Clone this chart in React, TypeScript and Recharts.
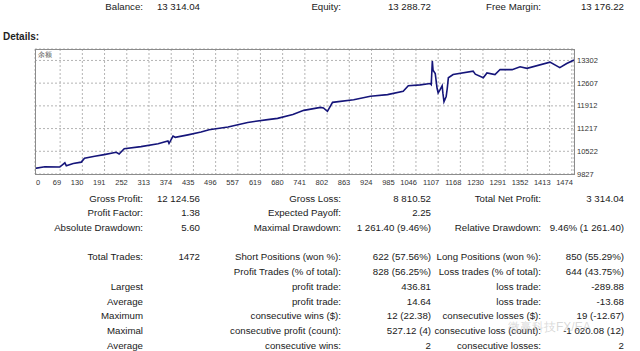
import React from "react";
import { LineChart, Line, XAxis, YAxis, CartesianGrid } from "recharts";

// balance curve (trade number -> balance)
const trades = [
  0, 27, 68, 82, 86, 105, 127, 136, 164, 190, 223, 231, 245, 291, 338, 365, 368, 379, 385, 420,
  456, 478, 530, 584, 639, 666, 708, 738, 784, 792, 803, 817, 875, 921, 968, 1011, 1025, 1058, 1085, 1088,
  1091, 1093, 1099, 1104, 1107, 1112, 1118, 1120, 1123, 1129, 1132, 1135, 1148, 1203, 1209, 1231, 1241, 1263, 1277, 1310,
  1332, 1351, 1414, 1441, 1460, 1480,
];
const balance = [
  10000, 10050, 10040, 10170, 10080, 10150, 10190, 10310, 10370, 10420, 10490, 10440, 10600, 10665, 10750, 10840, 10760, 10985, 10950, 11025,
  11110, 11180, 11265, 11405, 11490, 11530, 11650, 11775, 11865, 11850, 11745, 12020, 12100, 12205, 12255, 12360, 12530, 12555, 12595, 12560,
  13280, 13000, 12900, 12450, 12310, 12400, 12530, 12300, 12040, 12200, 12450, 12770, 12870, 12975, 12880, 12770, 12920, 12870, 13025, 13020,
  13110, 13060, 13250, 13080, 13210, 13314,
];

const xTicks = [0, 69, 130, 191, 252, 313, 374, 435, 496, 557, 619, 680, 741, 802, 863, 924, 985, 1046, 1107, 1168, 1230, 1291, 1352, 1413, 1474];
const yTicks = [9827, 10522, 11217, 11912, 12607, 13302];

const summary = ["Balance:", "13 314.04", "Equity:", "13 288.72", "Free Margin:", "13 176.22"];

const statRows = [
  ["Gross Profit:", "12 124.56", "Gross Loss:", "8 810.52", "Total Net Profit:", "3 314.04"],
  ["Profit Factor:", "1.38", "Expected Payoff:", "2.25", "", ""],
  ["Absolute Drawdown:", "5.60", "Maximal Drawdown:", "1 261.40 (9.46%)", "Relative Drawdown:", "9.46% (1 261.40)"],
  ["Total Trades:", "1472", "Short Positions (won %):", "622 (57.56%)", "Long Positions (won %):", "850 (55.29%)"],
  ["", "", "Profit Trades (% of total):", "828 (56.25%)", "Loss trades (% of total):", "644 (43.75%)"],
  ["Largest", "", "profit trade:", "436.81", "loss trade:", "-289.88"],
  ["Average", "", "profit trade:", "14.64", "loss trade:", "-13.68"],
  ["Maximum", "", "consecutive wins ($):", "12 (22.38)", "consecutive losses ($):", "19 (-12.67)"],
  ["Maximal", "", "consecutive profit (count):", "527.12 (4)", "consecutive loss (count):", "-1 020.08 (12)"],
  ["Average", "", "consecutive wins:", "2", "consecutive losses:", "2"],
];
const statRowY = [199, 213, 228, 257, 272, 287, 302, 316, 331, 346];

const colRight = [143, 200, 341, 431, 541, 624];

const data = trades.map((t, i) => ({ trade: t, balance: balance[i] }));

const font = "Tahoma, 'Liberation Sans', Arial, sans-serif";

function XTick(props: any) {
  const { x, y, payload } = props;
  const first = payload.value === 0;
  return (
    <text x={x + 1} y={y + 9} textAnchor={first ? "start" : "end"} fontSize={7.5} fill="#333" fontFamily={font}>
      {payload.value}
    </text>
  );
}

function YTick(props: any) {
  const { x, y, payload } = props;
  return (
    <text x={x} y={y} dy={2.5} textAnchor="start" fontSize={7.5} fill="#333" fontFamily={font}>
      {payload.value}
    </text>
  );
}

function Row({ cells, y }: { cells: string[]; y: number }) {
  return (
    <>
      {cells.map((c, i) =>
        c ? (
          <span
            key={i}
            style={{
              position: "absolute",
              right: 640 - colRight[i],
              top: y - 6,
              lineHeight: "12px",
              whiteSpace: "nowrap",
              fontSize: 9.7,
              color: "#1a1a1a",
            }}
          >
            {c}
          </span>
        ) : null
      )}
    </>
  );
}

export default function App() {
  return (
    <div style={{ position: "fixed", left: 0, top: 0, width: 640, height: 351, background: "#fff", fontFamily: font, overflow: "hidden" }}>
      <Row cells={summary} y={7} />
      <span style={{ position: "absolute", left: 3, top: 31, fontSize: 10, lineHeight: "12px", color: "#222", fontWeight: 600 }}>Details:</span>

      <div style={{ position: "absolute", left: 0, top: 0 }}>
        <LineChart width={640} height={200} data={data} margin={{ top: 49, right: 6, bottom: 6, left: 35 }}>
          <CartesianGrid stroke="#b4b4b4" strokeDasharray="2 2" />
          <XAxis
            dataKey="trade"
            type="number"
            domain={[0, 1480]}
            ticks={xTicks}
            height={20}
            axisLine={false}
            tickLine={false}
            tickSize={0}
            tick={<XTick />}
            interval={0}
            allowDataOverflow
          />
          <YAxis
            orientation="right"
            type="number"
            domain={[9827, 13652]}
            ticks={yTicks}
            width={60}
            axisLine={false}
            tickLine={false}
            tickSize={0}
            tickMargin={3}
            tick={<YTick />}
            interval={0}
            allowDataOverflow
          />
          <Line
            type="linear"
            dataKey="balance"
            stroke="#15157a"
            strokeWidth={1.6}
            dot={false}
            isAnimationActive={false}
          />
        </LineChart>
      </div>
      {/* plot frame */}
      <div style={{ position: "absolute", left: 35, top: 49, width: 538, height: 124, border: "1px solid #8c8c8c", pointerEvents: "none" }} />
      <span style={{ position: "absolute", left: 38, top: 51, fontSize: 7, lineHeight: "8px", color: "#555" }}>余额</span>

      {statRows.map((r, i) => (
        <Row key={i} cells={r} y={statRowY[i]} />
      ))}
      <span style={{ position: "absolute", left: 508, top: 320, fontSize: 12, lineHeight: "14px", color: "rgba(170,170,170,0.45)", whiteSpace: "nowrap" }}>
        微赢科技FX/EA
      </span>
    </div>
  );
}
